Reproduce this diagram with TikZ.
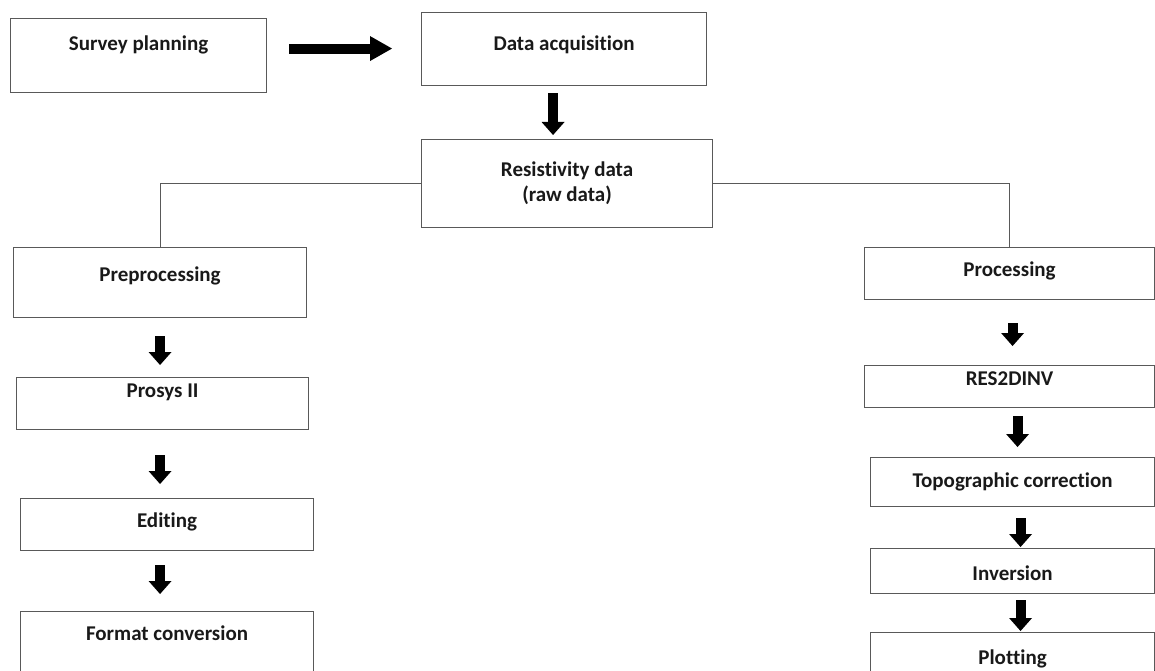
\documentclass[tikz,border=0pt]{standalone}
\usepackage{fontspec}
\setmainfont{Carlito}[Ligatures=NoCommon]
\usetikzlibrary{arrows.meta}

\begin{document}
\begin{tikzpicture}[x=1pt,y=-1pt,
    box/.style={draw=black!65,line width=1.1pt,inner sep=0pt,anchor=north west,text=black!90,
                font=\bfseries\fontsize{21}{25}\selectfont},
    link/.style={draw=black!65,line width=1.1pt},
    bigarrow/.style={line width=10pt,-{Triangle[length=22pt,width=25pt,line width=0pt]}},
    downarrow/.style={line width=10pt,-{Triangle[length=13pt,width=23pt,line width=0pt]}}]
    \useasboundingbox (0,0) rectangle (1155,671);
    \clip (0,0) rectangle (1155,671);

    % top row
    \node[box,minimum width=256pt,text height=32pt,text depth=42pt] (plan) at (10,18) {Survey planning};
    \node[box,minimum width=285pt,text height=38pt,text depth=35pt] (acq) at (421,12) {Data acquisition};
    \node[box,minimum width=291pt,minimum height=88pt,align=center] (raw) at (421,139) {Resistivity data\\(raw data)};

    % left branch
    \node[box,minimum width=293pt,text height=34pt,text depth=36pt] (pre) at (13,247) {Preprocessing};
    \node[box,minimum width=292pt,text height=20pt,text depth=32pt] (prosys) at (16,377) {Prosys II};
    \node[box,minimum width=293pt,text height=29pt,text depth=23pt] (edit) at (20,498) {Editing};
    \node[box,minimum width=293pt,text height=29pt,text depth=60pt] (fmt) at (20,611) {Format conversion};

    % right branch
    \node[box,minimum width=290pt,text height=29pt,text depth=23pt] (proc) at (864,247) {Processing};
    \node[box,minimum width=290pt,text height=20pt,text depth=22pt] (res2d) at (864,365) {RES2DINV};
    \node[box,minimum width=284pt,text height=30pt,text depth=19pt] (topo) at (870,457) {Topographic correction};
    \node[box,minimum width=284pt,text height=32pt,text depth=13pt] (inv) at (870,548) {Inversion};
    \node[box,minimum width=284pt,text height=32pt,text depth=40pt] (plot) at (870,632) {Plotting};

    % branch lines
    \draw[link] (raw.west) -| (pre.north);
    \draw[link] (raw.east) -| (proc.north);

    % block arrows
    \draw[bigarrow,shorten <=22pt,shorten >=29pt] ([yshift=7pt]plan.east) -- ([yshift=7pt]plan.east -| acq.west);
    \draw[downarrow,shorten <=7pt,shorten >=4pt] ([xshift=-11pt]acq.south) -- ([xshift=-11pt]acq.south |- raw.north);

    \draw[downarrow,shorten <=18pt,shorten >=12pt] (pre.south) -- (pre.south |- prosys.north);
    \draw[downarrow,shorten <=25pt,shorten >=14pt] (pre.south |- prosys.south) -- (pre.south |- edit.north);
    \draw[downarrow,shorten <=14pt,shorten >=17pt] (pre.south |- edit.south) -- (pre.south |- fmt.north);

    \draw[downarrow,shorten <=23pt,shorten >=19pt] ([xshift=3pt]proc.south) -- ([xshift=3pt]proc.south |- res2d.north);
    \draw[downarrow,shorten <=8pt,shorten >=10pt] ([xshift=8pt]res2d.south) -- ([xshift=8pt]res2d.south |- topo.north);
    \draw[downarrow,shorten <=11pt,shorten >=1pt] ([xshift=8pt]topo.south) -- ([xshift=8pt]topo.south |- inv.north);
    \draw[downarrow,shorten <=6pt,shorten >=1pt] ([xshift=8pt]inv.south) -- ([xshift=8pt]inv.south |- plot.north);
\end{tikzpicture}
\end{document}
